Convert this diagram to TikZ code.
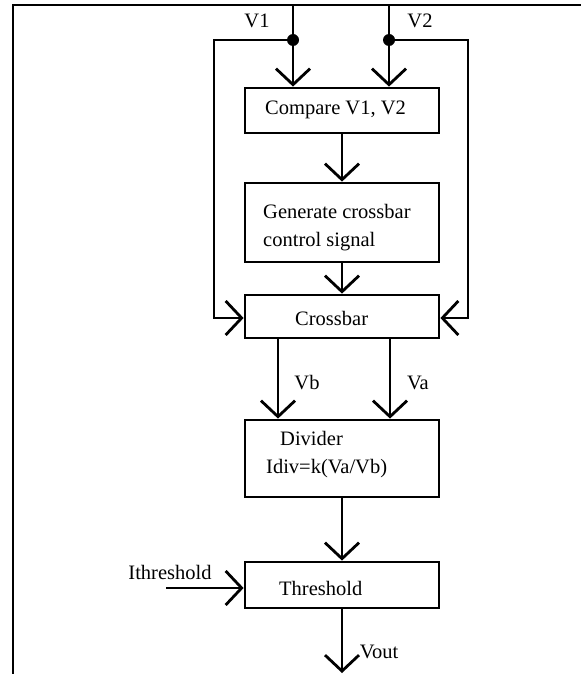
\documentclass[tikz,border=0pt]{standalone}
\usepackage{fontspec}
\setmainfont{Liberation Serif}
\usetikzlibrary{arrows.meta}
\begin{document}
\begin{tikzpicture}[x=1pt,y=-1pt,
  wire/.style={line width=2.8pt},
  flow/.style={wire,-{Straight Barb[length=16pt,width=34pt,line width=2.8pt]}},
  block/.style={draw,line width=2.8pt,minimum width=194pt,inner sep=0pt},
  txt/.style={inner sep=0pt,font=\fontsize{20.5}{28}\selectfont},
  junction/.style={circle,fill=black,inner sep=0pt,minimum size=12pt}]
\useasboundingbox (0,0) rectangle (581,674);

% outer frame (top and left edges)
\draw[line width=2pt] (13,674) -- (13,5) -- (581,5);

% blocks
\node[block,minimum height=45pt] (compare)   at (342,110.5) {};
\node[block,minimum height=79pt] (generate)  at (342,222.5) {};
\node[block,minimum height=43pt] (crossbar)  at (342,316.5) {};
\node[block,minimum height=77pt] (divider)   at (342,458.5) {};
\node[block,minimum height=46pt] (threshold) at (342,585)   {};

% block texts
\node[txt,anchor=west] (tcompare) at (265,110) {Compare V1, V2};
\node[txt,anchor=west,align=left] (tgenerate) at (263,228) {Generate crossbar\\control signal};
\node[txt,anchor=west] (tcrossbar) at (295,318) {Crossbar};
\node[txt,anchor=base west] (tdivider) at (280,445) {Divider};
\node[txt,anchor=base west] (tidiv) at (266,473) {Idiv=k(Va/Vb)};
\node[txt,anchor=west] (tthreshold) at (279,588) {Threshold};

% inputs V1, V2 and their branch points
\coordinate (v1in) at (293,5);
\coordinate (v2in) at (389,5);
\node[junction] (j1) at (293,40) {};
\node[junction] (j2) at (389,40) {};
\coordinate (l1) at (214,40);
\coordinate (l2) at (214,318);
\coordinate (r1) at (468,40);
\coordinate (r2) at (468,318);

\draw[wire] (v1in) -- (j1.center);
\draw[wire] (v2in) -- (j2.center);
\draw[flow] (j1.center) -- (j1 |- compare.north);
\draw[flow] (j2.center) -- (j2 |- compare.north);
\draw[flow] (j1.center) -- (l1) -- (l2) -- (l2 -| crossbar.west);
\draw[flow] (j2.center) -- (r1) -- (r2) -- (r2 -| crossbar.east);

\node[txt] (lv1) at (257,21) {V1};
\node[txt] (lv2) at (420,21) {V2};

% main chain
\draw[flow] (compare.south) -- (generate.north);
\draw[flow] (generate.south) -- (crossbar.north);

\coordinate (vb) at (278,0);
\coordinate (va) at (390,0);
\draw[flow] (vb |- crossbar.south) -- (vb |- divider.north);
\draw[flow] (va |- crossbar.south) -- (va |- divider.north);
\node[txt] (lvb) at (307,383) {Vb};
\node[txt] (lva) at (418,383) {Va};

\draw[flow] (divider.south) -- (threshold.north);

% threshold current input
\coordinate (ith) at (166,588);
\draw[flow] (ith) -- (ith -| threshold.west);
\node[txt] (lith) at (170,572) {Ithreshold};

% output
\coordinate (vout) at (342,673);
\draw[flow] (threshold.south) -- (vout);
\node[txt] (lvout) at (379,652) {Vout};
\end{tikzpicture}
\end{document}
